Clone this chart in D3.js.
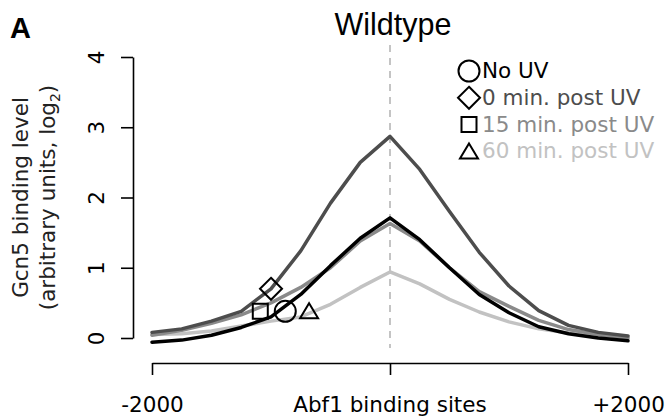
<!DOCTYPE html>
<html>
<head>
<meta charset="utf-8">
<script src="https://cdn.jsdelivr.net/npm/d3@7"></script>
<style>
  html, body { margin: 0; padding: 0; background: #fff; }
  svg { display: block; }
  text { font-family: "DejaVu Sans", sans-serif; }
</style>
</head>
<body>
<svg id="chart" width="665" height="417"></svg>
<script>
// ---- data ----
const positions = [-2000, -1750, -1500, -1250, -1000, -750, -500, -250, 0, 250, 500, 750, 1000, 1250, 1500, 1750, 2000];
const noUV      = [-0.06, -0.03, 0.04, 0.15, 0.30, 0.62, 1.03, 1.42, 1.71, 1.40, 1.00, 0.62, 0.36, 0.16, 0.06, 0.00, -0.04];
const min0      = [0.08, 0.13, 0.24, 0.38, 0.70, 1.24, 1.92, 2.50, 2.87, 2.40, 1.80, 1.22, 0.74, 0.39, 0.18, 0.08, 0.03];
const min15     = [0.04, 0.11, 0.21, 0.33, 0.50, 0.72, 1.00, 1.38, 1.63, 1.38, 1.00, 0.66, 0.45, 0.25, 0.12, 0.05, 0.00];
const min60     = [0.05, 0.06, 0.10, 0.17, 0.24, 0.30, 0.48, 0.72, 0.94, 0.77, 0.55, 0.37, 0.23, 0.13, 0.07, 0.04, 0.02];
const seriesNames = ["No UV", "0 min. post UV", "15 min. post UV", "60 min. post UV"];
const seriesColors = ["#000000", "#4d4d4d", "#8a8a8a", "#c2c2c2"];
const seriesShapes = ["circle", "diamond", "square", "triangle"];
const markerX = [-880, -1000, -1090, -680];
const markerY = [0.38, 0.70, 0.38, 0.38];
const yTicks = [0, 1, 2, 3, 4];
const xTicks = [-2000, 0, 2000];
const xTickLabels = ["-2000", "", "+2000"];

// ---- layout ----
const svg = d3.select("#chart");
const x = d3.scaleLinear().domain([-2000, 2000]).range([152, 628]);
const y = d3.scaleLinear().domain([0, 4]).range([338, 57]);
const fs = 21.5;

// title and panel letter
svg.append("text").attr("x", 10).attr("y", 38)
  .style("font-family", "'Liberation Sans', Arial, sans-serif")
  .style("font-weight", "bold").style("font-size", "29px").text("A");
svg.append("text").attr("x", 393).attr("y", 35).attr("text-anchor", "middle")
  .style("font-family", "'Liberation Sans', Arial, sans-serif")
  .style("font-size", "30.5px").text("Wildtype");

// dashed centre line
svg.append("line").attr("x1", x(0)).attr("x2", x(0)).attr("y1", 45).attr("y2", 348)
  .attr("stroke", "#c4c4c4").attr("stroke-width", 2).attr("stroke-dasharray", "7,6");

// y axis
const yAxisG = svg.append("g").attr("transform", "translate(133,0)")
  .call(d3.axisLeft(y).tickValues(yTicks).tickSize(12).tickSizeOuter(0).tickFormat(d3.format("d")));
yAxisG.select(".domain").attr("stroke", "#000").attr("stroke-width", 1.6);
yAxisG.selectAll(".tick line").attr("stroke", "#000").attr("stroke-width", 1.6);
yAxisG.selectAll(".tick text")
  .attr("x", null).attr("dy", null)
  .attr("transform", "translate(-29,0) rotate(-90)")
  .attr("text-anchor", "middle")
  .style("font-family", "'DejaVu Sans', sans-serif")
  .style("font-size", fs + "px").attr("fill", "#000");

// x axis
const xAxisG = svg.append("g").attr("transform", "translate(0,363)")
  .call(d3.axisBottom(x).tickValues(xTicks).tickSize(12).tickSizeOuter(0)
    .tickFormat((d, i) => xTickLabels[i]));
xAxisG.select(".domain").attr("stroke", "#000").attr("stroke-width", 1.6);
xAxisG.selectAll(".tick line").attr("stroke", "#000").attr("stroke-width", 1.6);
xAxisG.selectAll(".tick text").attr("y", 49).attr("dy", null)
  .style("font-family", "'DejaVu Sans', sans-serif")
  .style("font-size", fs + "px").attr("fill", "#000");
svg.append("text").attr("x", x(0)).attr("y", 412).attr("text-anchor", "middle")
  .style("font-size", fs + "px").text("Abf1 binding sites");

// y axis title
const yt = svg.append("g").attr("transform", "translate(0,197.5)");
yt.append("text").attr("transform", "translate(28,0) rotate(-90)").attr("text-anchor", "middle")
  .style("font-size", fs + "px").attr("fill", "#222").text("Gcn5 binding level");
const t2 = yt.append("text").attr("transform", "translate(55,0) rotate(-90)").attr("text-anchor", "middle")
  .style("font-size", fs + "px").attr("fill", "#222");
t2.append("tspan").text("(arbitrary units, log");
t2.append("tspan").attr("dy", 5).style("font-size", "14px").text("2");
t2.append("tspan").attr("dy", -5).text(")");

// lines
const allSeries = [noUV, min0, min15, min60];
const line = d3.line().x((d, i) => x(positions[i])).y(d => y(d));
const drawOrder = [3, 2, 1, 0];
drawOrder.forEach(k => {
  svg.append("path").datum(allSeries[k]).attr("d", line)
    .attr("fill", "none").attr("stroke", seriesColors[k])
    .attr("stroke-width", 3.5).attr("stroke-linejoin", "round").attr("stroke-linecap", "round");
});

// marker shapes
function shapePath(shape, cx, cy) {
  if (shape === "circle") {
    const r = 10.5;
    return `M${cx + r},${cy} A${r},${r} 0 1 1 ${cx - r},${cy} A${r},${r} 0 1 1 ${cx + r},${cy} Z`;
  }
  if (shape === "diamond") {
    const r = 11;
    return `M${cx},${cy - r} L${cx + r},${cy} L${cx},${cy + r} L${cx - r},${cy} Z`;
  }
  if (shape === "square") {
    const h = 7.5;
    return `M${cx - h},${cy - h} L${cx + h},${cy - h} L${cx + h},${cy + h} L${cx - h},${cy + h} Z`;
  }
  const w = 9, hh = 8;
  return `M${cx},${cy - hh} L${cx + w},${cy + hh - 1} L${cx - w},${cy + hh - 1} Z`;
}

seriesShapes.forEach((s, i) => {
  svg.append("path").attr("d", shapePath(s, x(markerX[i]), y(markerY[i])))
    .attr("fill", "none").attr("stroke", "#000").attr("stroke-width", 2);
});

// legend
const legend = svg.append("g");
seriesNames.forEach((name, i) => {
  const by = 78 + i * 26.8;
  legend.append("path").attr("d", shapePath(seriesShapes[i], 469, by - 7))
    .attr("fill", "none").attr("stroke", "#000").attr("stroke-width", 2);
  legend.append("text").attr("x", 482).attr("y", by)
    .style("font-size", fs + "px")
    .attr("fill", i === 0 ? "#000" : seriesColors[i]).text(name);
});
</script>
</body>
</html>
